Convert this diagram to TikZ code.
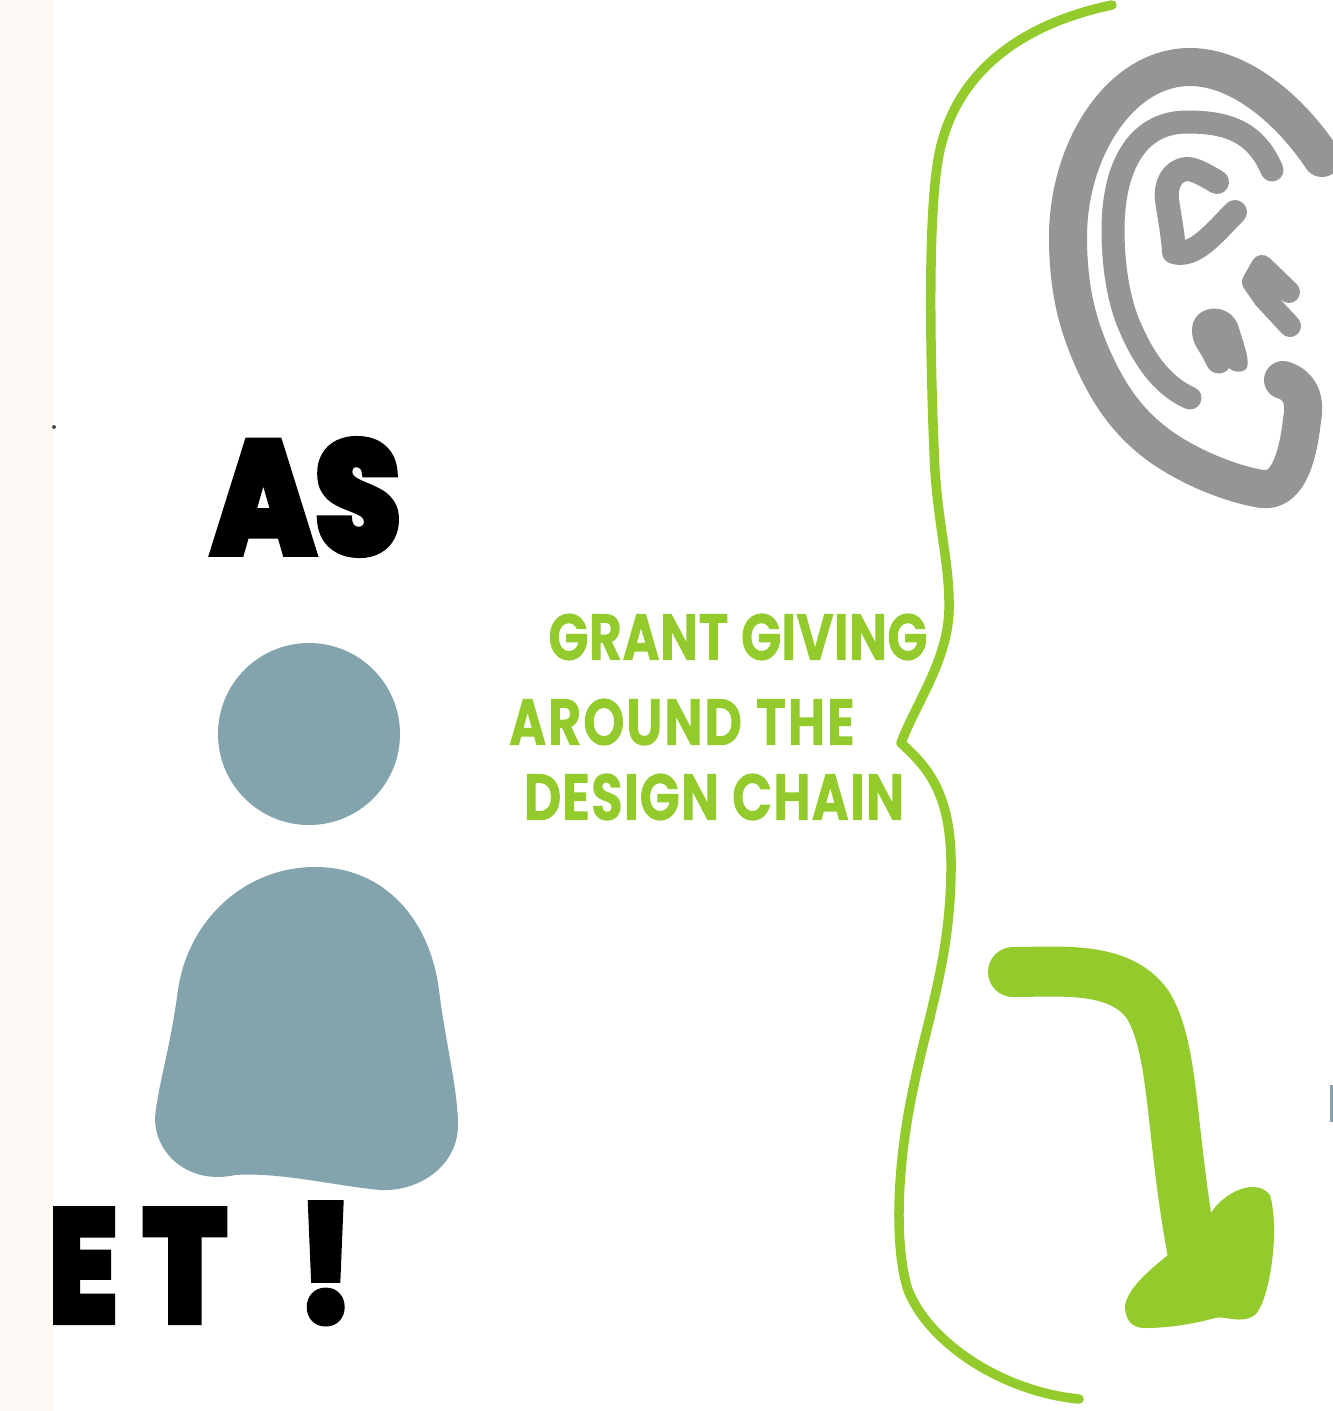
\documentclass[tikz,border=0pt]{standalone}
\usepackage{fontspec}
\newfontfamily\handfont[FakeBold=4,FakeStretch=0.86]{Poppins ExtraBold}
\newfontfamily\greenfont[FakeBold=2.5,FakeStretch=0.8]{Poppins SemiBold}
\definecolor{leaf}{HTML}{94CB2C}
\definecolor{earg}{HTML}{959595}
\definecolor{body}{HTML}{83A3AD}
\definecolor{strip}{HTML}{FEF9F5}
\tikzset{
 bline/.style={draw=leaf,line width=9.5pt,line cap=round,line join=round},
 earline/.style={draw=earg,line cap=round,line join=round},
 headline/.style={font=\handfont\fontsize{160}{160}\selectfont,text=black,inner sep=0pt},
 etline/.style={font=\handfont\fontsize{160}{160}\selectfont,text=black,inner sep=0pt},
 greenline/.style={font=\greenfont\fontsize{64}{64}\selectfont,text=leaf,inner sep=0pt}
}
\begin{document}
\begin{tikzpicture}[x=1pt,y=-1pt]
\useasboundingbox (0,0) rectangle (1333,1411);
\fill[white] (0,0) rectangle (1333,1411);
\fill[strip] (0,0) rectangle (53,1411);
% brace
\draw[bline] (1112,5) .. controls (1040,20) and (955,60) .. (938,160)
 .. controls (928,220) and (930,350) .. (934,450)
 .. controls (936,520) and (950,560) .. (949,610)
 .. controls (948,660) and (915,705) .. (901,743)
 .. controls (925,765) and (950,790) .. (951,860)
 .. controls (952,950) and (930,1010) .. (915,1080)
 .. controls (895,1170) and (895,1250) .. (908,1290)
 .. controls (930,1345) and (1005,1392) .. (1079,1399);
% ear
\draw[earline,line width=38pt] (1322,158) .. controls (1290,110) and (1240,67) .. (1190,67)
 .. controls (1120,67) and (1068,150) .. (1068,237)
 .. controls (1068,290) and (1078,325) .. (1092,357)
 .. controls (1108,393) and (1125,418) .. (1152,440)
 .. controls (1179,462) and (1225,483) .. (1262,489)
 .. controls (1285,492) and (1297,465) .. (1302,420)
 .. controls (1306,400) and (1300,385) .. (1283,380);
\draw[earline,line width=23pt] (1272,170) .. controls (1255,130) and (1225,122) .. (1187,122)
 .. controls (1135,122) and (1113,170) .. (1113,230)
 .. controls (1113,270) and (1120,305) .. (1130,327)
 .. controls (1142,355) and (1160,385) .. (1190,398);
\draw[earline,line width=24pt] (1217,182) .. controls (1205,175) and (1195,169) .. (1187,169)
 .. controls (1172,170) and (1165,185) .. (1167,200)
 .. controls (1170,220) and (1173,235) .. (1174,252)
 .. controls (1195,258) and (1215,232) .. (1235,212);
\draw[earline,line width=22pt] (1289,292) -- (1262,266) -- (1253,282) -- (1264,298) -- (1290,326);
\fill[earg] (1192,330) .. controls (1192,305) and (1228,300) .. (1238,325)
 .. controls (1244,345) and (1252,365) .. (1245,370)
 .. controls (1240,373) and (1233,372) .. (1229,368)
 .. controls (1225,375) and (1212,376) .. (1207,366)
 .. controls (1200,350) and (1192,345) .. (1192,330) -- cycle;
% person
\fill[body] (309,734) circle (91);
\fill[body] (315,867) .. controls (385,867) and (430,920) .. (439,990)
 .. controls (445,1040) and (458,1090) .. (458,1125)
 .. controls (458,1165) and (420,1192) .. (380,1190)
 .. controls (330,1185) and (280,1172) .. (235,1175)
 .. controls (190,1185) and (155,1155) .. (155,1118)
 .. controls (158,1085) and (170,1050) .. (178,990)
 .. controls (188,920) and (245,867) .. (315,867) -- cycle;
% arrow
\draw[draw=leaf,line width=50pt,line cap=round,line join=round] (1013,972)
 .. controls (1060,972) and (1120,965) .. (1148,1005)
 .. controls (1175,1050) and (1170,1130) .. (1192,1250);
\fill[leaf] (1125,1305) .. controls (1130,1280) and (1170,1255) .. (1205,1225)
 .. controls (1215,1195) and (1255,1175) .. (1270,1195)
 .. controls (1280,1230) and (1270,1300) .. (1255,1315)
 .. controls (1240,1325) and (1225,1315) .. (1215,1318)
 .. controls (1190,1325) and (1165,1328) .. (1145,1328)
 .. controls (1130,1328) and (1125,1318) .. (1125,1305) -- cycle;
% texts
\node[headline,anchor=center] (as) at (306,497) {AS};
\begin{scope}
\clip (53,1150) rectangle (400,1360);
\node[etline,anchor=base west] (et) at (42,1322) {E\hspace{26pt}T\hspace{70pt}!};
\end{scope}
\node[greenline,anchor=center] (g1) at (738,637) {\addfontfeature{LetterSpace=1.4}GRANT GIVING};
\node[greenline,anchor=center] (g2) at (682,722) {\addfontfeature{LetterSpace=3.9}AROUND THE};
\node[greenline,anchor=center] (g3) at (714,797) {\addfontfeature{LetterSpace=2.6}DESIGN CHAIN};
\fill[body] (1330,1085) rectangle (1333,1122);
\fill[black!70] (54,427) circle (2);
\end{tikzpicture}
\end{document}
